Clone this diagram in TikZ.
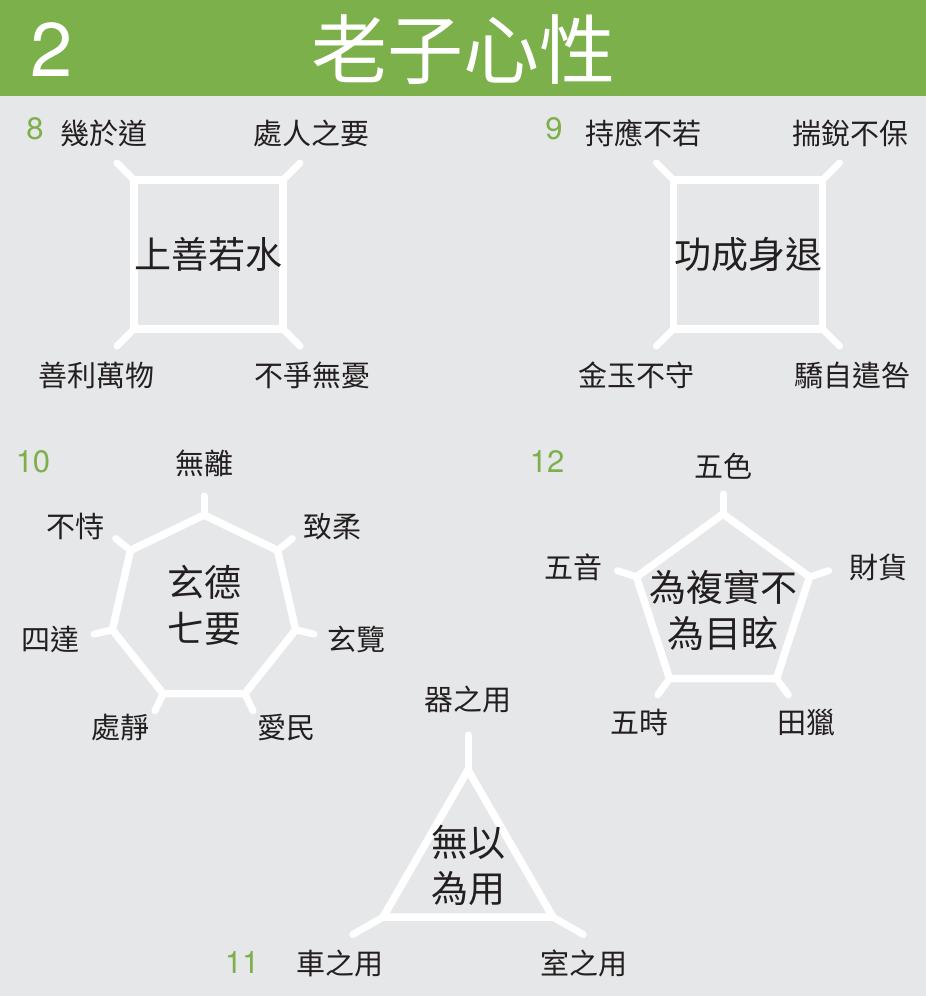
\documentclass[tikz,border=0pt]{standalone}
\usepackage{fontspec}
\setmainfont{TeX Gyre Heros}
\newfontfamily\cjk{Noto Sans CJK TC}
\usetikzlibrary{positioning}
\definecolor{lzgreen}{RGB}{124,176,74}
\definecolor{lzgray}{RGB}{230,231,233}
\definecolor{lzink}{RGB}{35,31,32}

\begin{document}
\begin{tikzpicture}[x=1pt,y=1pt,
  frame/.style={draw=white,line width=7.5pt,outer sep=0pt},
  spoke/.style={draw=white,line width=7pt,line cap=round},
  lbl/.style={text=lzink,font=\cjk\fontsize{29}{30}\selectfont,inner sep=0pt},
  core/.style={text=lzink,font=\cjk\fontsize{37}{46}\selectfont,align=center,inner sep=0pt},
  num/.style={text=lzgreen,font=\fontsize{31}{31}\selectfont,inner sep=0pt}]
\useasboundingbox (0,0) rectangle (926,-996);
\fill[lzgray] (0,0) rectangle (926,-996);
\fill[lzgreen] (0,0) rectangle (926,-96);
\node[text=white,font=\fontsize{76}{76}\selectfont,inner sep=0pt] (chap) at (52,-50) {2};
\node[text=white,font=\cjk\fontsize{76}{76}\selectfont,inner sep=0pt] (title) at (463,-50) {老子心性};

% 8
\node[frame,core,minimum size=149pt] (sq8) at (208.5,-254.5) {上善若水};
\coordinate[above left=17pt and 17pt of sq8.north west] (sq8a);
\coordinate[above right=17pt and 17pt of sq8.north east] (sq8b);
\coordinate[below left=17pt and 17pt of sq8.south west] (sq8c);
\coordinate[below right=17pt and 17pt of sq8.south east] (sq8d);
\draw[spoke] (sq8.north west) -- (sq8a);
\draw[spoke] (sq8.north east) -- (sq8b);
\draw[spoke] (sq8.south west) -- (sq8c);
\draw[spoke] (sq8.south east) -- (sq8d);
\node[num] (n8) at (35,-129) {8};
\node[lbl] (ji) at (104,-133) {幾於道};
\node[lbl] (chu) at (311,-133) {處人之要};
\node[lbl] (shan) at (96,-375) {善利萬物};
\node[lbl] (buzheng) at (312,-375) {不爭無憂};

% 9
\node[frame,core,minimum size=149pt] (sq9) at (748,-254.5) {功成身退};
\coordinate[above left=17pt and 17pt of sq9.north west] (sq9a);
\coordinate[above right=17pt and 17pt of sq9.north east] (sq9b);
\coordinate[below left=17pt and 17pt of sq9.south west] (sq9c);
\coordinate[below right=17pt and 17pt of sq9.south east] (sq9d);
\draw[spoke] (sq9.north west) -- (sq9a);
\draw[spoke] (sq9.north east) -- (sq9b);
\draw[spoke] (sq9.south west) -- (sq9c);
\draw[spoke] (sq9.south east) -- (sq9d);
\node[num] (n9) at (554,-129) {9};
\node[lbl] (chi) at (643,-133) {持應不若};
\node[lbl] (chuai) at (850,-133) {揣銳不保};
\node[lbl] (jin) at (636,-375) {金玉不守};
\node[lbl] (jiao) at (852,-375) {驕自遣咎};

% 10
\begin{scope}[shift={(204,-609)}]
\foreach \i in {1,...,7} {
  \coordinate (h\i) at ({90+(\i-1)*360/7}:94);
  \coordinate (ho\i) at ({90+(\i-1)*360/7}:113);
}
\draw[frame] (h1) -- (h2) -- (h3) -- (h4) -- (h5) -- (h6) -- (h7) -- cycle;
\foreach \i in {1,...,7} \draw[spoke] (h\i) -- (ho\i);
\end{scope}
\node[core] (xuande) at (204,-605) {玄德\\七要};
\node[num] (n10) at (33,-462) {10};
\node[lbl] (wuli) at (204,-463) {無離};
\node[lbl] (zhirou) at (332,-527) {致柔};
\node[lbl] (xuanlan) at (356,-639) {玄覽};
\node[lbl] (aimin) at (286,-728) {愛民};
\node[lbl] (chujing) at (120,-728) {處靜};
\node[lbl] (sida) at (50,-639) {四達};
\node[lbl] (bushi) at (75,-527) {不恃};

% 12
\begin{scope}[shift={(723,-605)}]
\foreach \i in {1,...,5} {
  \coordinate (p\i) at ({90+(\i-1)*72}:91);
  \coordinate (po\i) at ({90+(\i-1)*72}:111);
}
\draw[frame] (p1) -- (p2) -- (p3) -- (p4) -- (p5) -- cycle;
\foreach \i in {1,...,5} \draw[spoke] (p\i) -- (po\i);
\end{scope}
\node[core] (weifu) at (723,-610) {為複實不\\為目眩};
\node[num] (n12) at (547,-462) {12};
\node[lbl] (wuse) at (723,-466) {五色};
\node[lbl] (caihuo) at (878,-567) {財貨};
\node[lbl] (tianlie) at (806,-722) {田獵};
\node[lbl] (wushi) at (639,-722) {五時};
\node[lbl] (wuyin) at (573,-567) {五音};

% 11
\begin{scope}[shift={(468,-868)}]
\foreach \i in {1,...,3} {
  \coordinate (t\i) at ({90+(\i-1)*120}:98);
  \coordinate (to\i) at ({90+(\i-1)*120}:133);
}
\draw[frame] (t1) -- (t2) -- (t3) -- cycle;
\foreach \i in {1,...,3} \draw[spoke] (t\i) -- (to\i);
\end{scope}
\node[core] (wuyi) at (468,-865) {無以\\為用};
\node[num] (n11) at (242,-962) {11};
\node[lbl] (qi) at (468,-699) {器之用};
\node[lbl] (che) at (340,-963) {車之用};
\node[lbl] (shi) at (584,-963) {室之用};
\end{tikzpicture}
\end{document}
